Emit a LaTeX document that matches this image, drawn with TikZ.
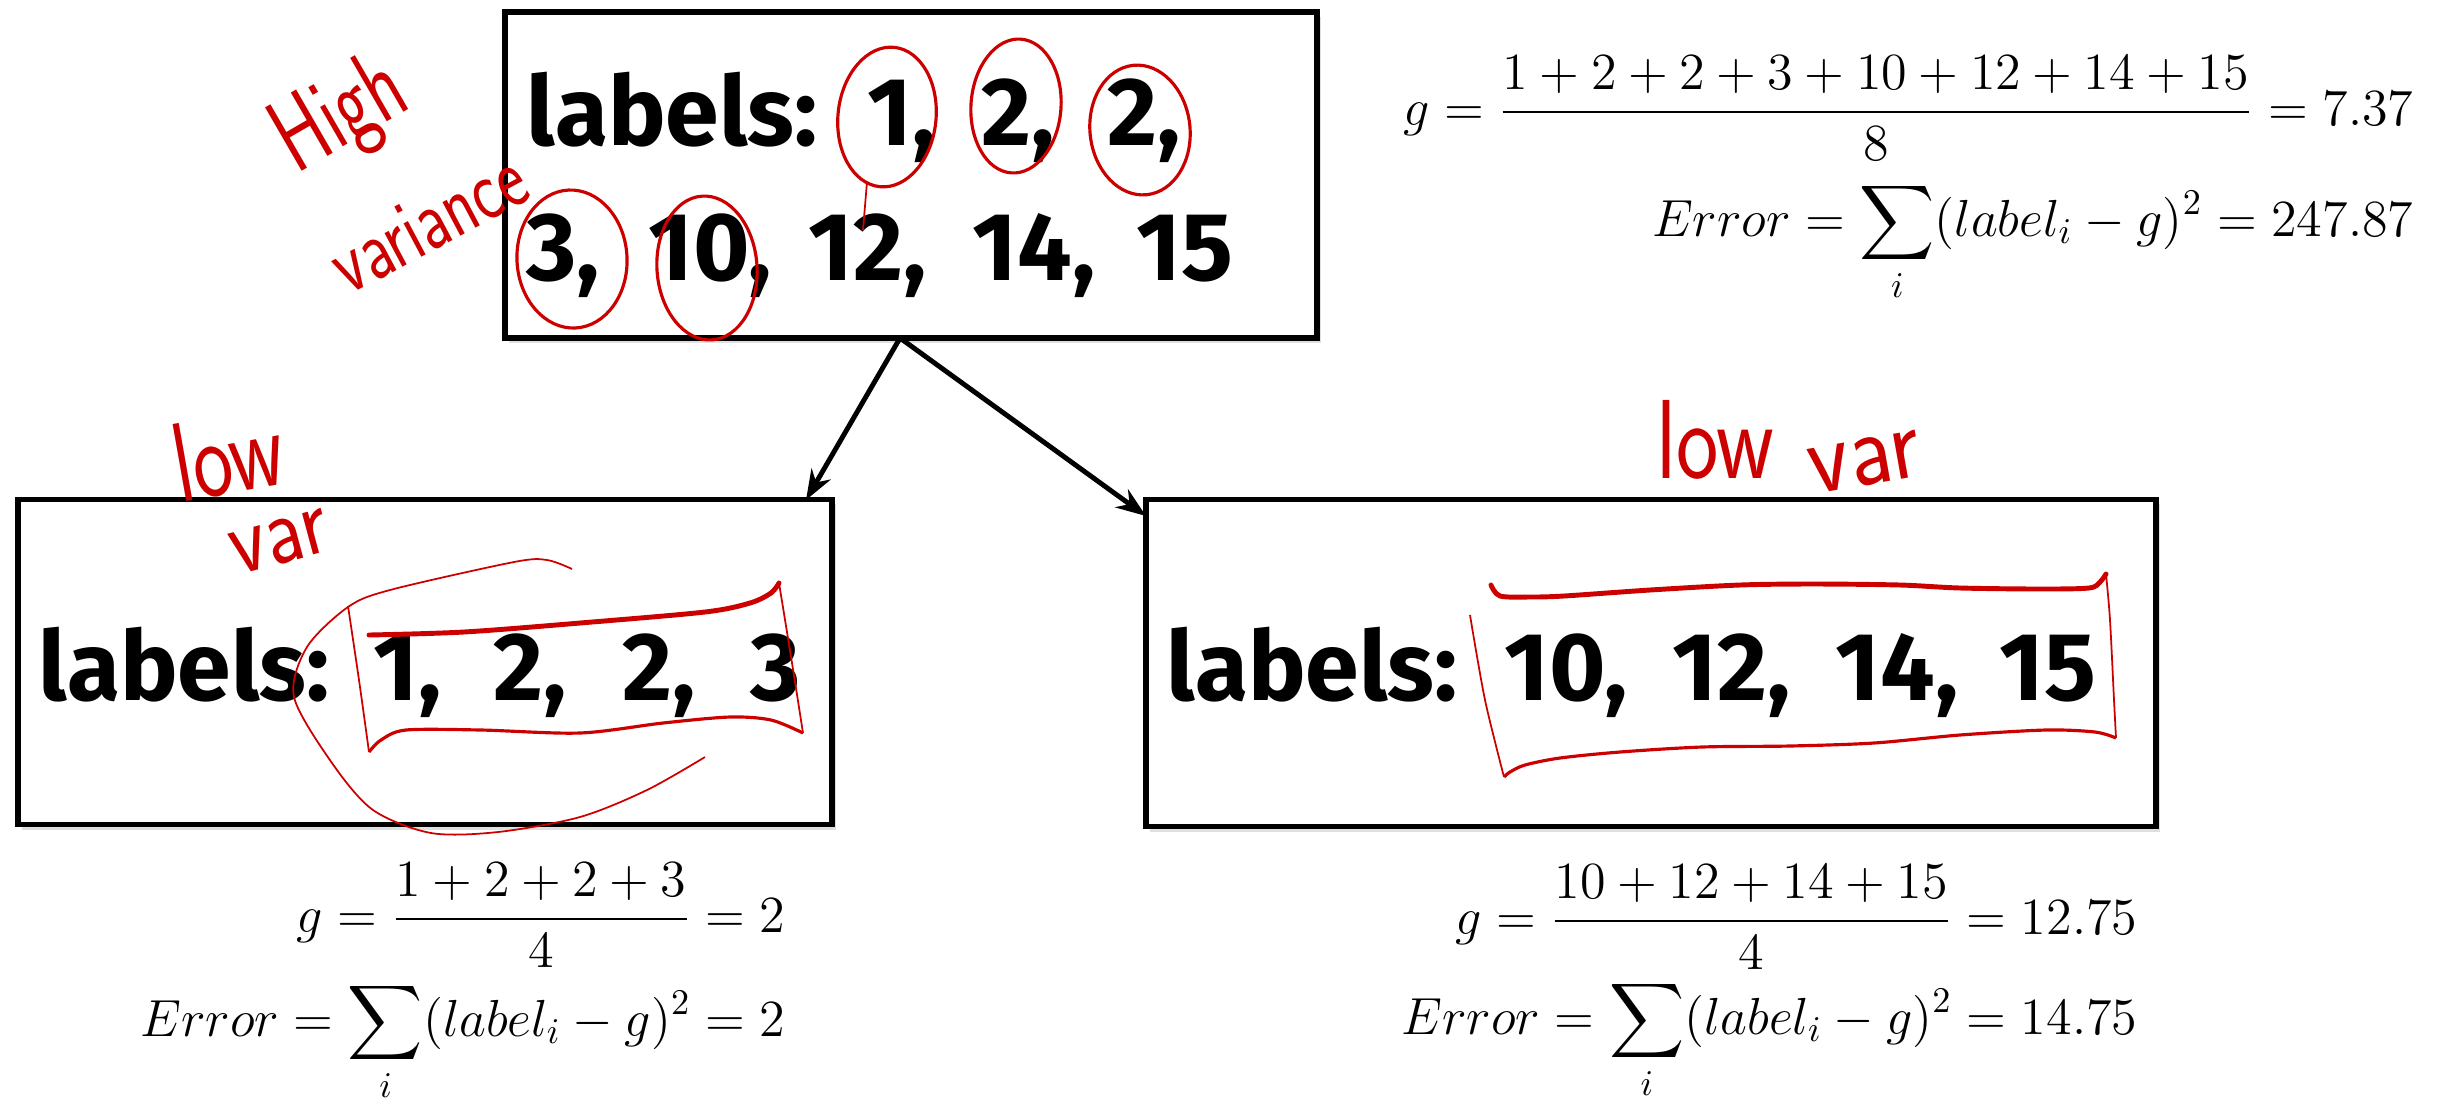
\documentclass[tikz,border=0pt]{standalone}
\usepackage{amsmath}
\usepackage{exscale}
\usepackage{fontspec}
\newfontfamily\chalk{Fira Sans}
\usetikzlibrary{arrows.meta,shadows}
\definecolor{ink}{RGB}{205,0,0}
\begin{document}
\begin{tikzpicture}[x=0.01cm,y=-0.01cm,
  box/.style={draw=black, line width=1.6pt, fill=white, rectangle, inner sep=0pt,
    drop shadow={opacity=0.25, shadow xshift=0.04cm, shadow yshift=-0.05cm}},
  tok/.style={anchor=base west, inner sep=0pt, font=\chalk\bfseries\fontsize{27.5}{33}\selectfont},
  eq/.style={anchor=base east, inner sep=0pt, scale=1.03, transform shape, font=\fontsize{14.4}{18}\selectfont},
  hand/.style={text=ink, inner sep=0pt, transform shape},
  inkthin/.style={draw=ink, line width=0.5pt},
  inkmid/.style={draw=ink, line width=0.9pt},
  inkthick/.style={draw=ink, line width=1.4pt, line cap=round},
  arr/.style={-{Stealth[length=0.3cm,width=0.22cm]}, line width=1.4pt}
]
\useasboundingbox (0,0) rectangle (2448,1105);

% boxes
\node[box, minimum width=8.12cm, minimum height=3.26cm] (top) at (911,175) {};
\node[box, minimum width=8.14cm, minimum height=3.25cm] (lbox) at (425,662) {};
\node[box, minimum width=10.09cm, minimum height=3.27cm] (rbox) at (1651,663) {};

% connectors
\coordinate (split) at (900,338);
\coordinate (lt) at (806,500);
\coordinate (rt) at (1146,516);
\draw[arr] (split) -- (lt);
\draw[arr] (split) -- (rt);

% top box labels
\node[tok] (t1) at (526,145) {labels:};
\node[tok] (t2) at (867,145) {1,};
\node[tok] (t3) at (981,145) {2,};
\node[tok] (t4) at (1107,145) {2,};
\node[tok] (t5) at (526,280) {3,};
\node[tok] (t6) at (648,280) {10,};
\node[tok] (t7) at (808,280) {12,};
\node[tok] (t8) at (972,280) {14,};
\node[tok] (t9) at (1136,280) {15};

% left box labels
\node[tok] (l1) at (38,700) {labels:};
\node[tok] (l2) at (373,700) {1,};
\node[tok] (l3) at (493,700) {2,};
\node[tok] (l4) at (622,700) {2,};
\node[tok] (l5) at (750,700) {3};

% right box labels
\node[tok] (r1) at (1166,700) {labels:};
\node[tok] (r2) at (1504,700) {10,};
\node[tok] (r3) at (1672,700) {12,};
\node[tok] (r4) at (1835,700) {14,};
\node[tok] (r5) at (1999,700) {15};

% equations
\node[eq] (eqtg) at (2414,125) {$\displaystyle g=\frac{1+2+2+3+10+12+14+15}{8}=7.37$};
\node[eq] (eqte) at (2414,236) {$\displaystyle Error=\sum_i (label_i-g)^2=247.87$};
\node[eq] (eqlg) at (786,932) {$\displaystyle g=\frac{1+2+2+3}{4}=2$};
\node[eq] (eqle) at (786,1036) {$\displaystyle Error=\sum_i (label_i-g)^2=2$};
\node[eq] (eqrg) at (2138,934) {$\displaystyle g=\frac{10+12+14+15}{4}=12.75$};
\node[eq] (eqre) at (2138,1034) {$\displaystyle Error=\sum_i (label_i-g)^2=14.75$};

% handwritten notes
\node[hand, rotate=30, xscale=0.7, font=\sffamily\fontsize{30}{36}\selectfont] (high) at (342,118) {High};
\node[hand, rotate=28, xscale=0.75, font=\sffamily\fontsize{25}{30}\selectfont] (vari) at (428,222) {variance};
\node[hand, rotate=10, xscale=0.75, font=\sffamily\fontsize{32}{38}\selectfont] (llow) at (228,455) {low};
\node[hand, rotate=15, xscale=0.85, font=\sffamily\fontsize{28}{32}\selectfont] (lvar) at (280,542) {var};
\node[hand, rotate=0, xscale=0.8, font=\sffamily\fontsize{32}{38}\selectfont] (rlow) at (1715,440) {low};
\node[hand, rotate=10, xscale=0.9, font=\sffamily\fontsize{30}{34}\selectfont] (rvar) at (1865,462) {var};

% red circles in top box
\draw[inkmid, rotate around={-6:(887,117)}] (887,117) ellipse [x radius=0.49cm, y radius=0.70cm];
\draw[inkmid, rotate around={-4:(1016,106)}] (1016,106) ellipse [x radius=0.45cm, y radius=0.67cm];
\draw[inkmid, rotate around={6:(1140,130)}] (1140,130) ellipse [x radius=0.50cm, y radius=0.65cm];
\draw[inkmid, rotate around={3:(572,259)}] (572,259) ellipse [x radius=0.55cm, y radius=0.69cm];
\draw[inkmid, rotate around={4:(707,268)}] (707,268) ellipse [x radius=0.50cm, y radius=0.72cm];
\draw[inkthin] (867,182) -- (863,230);

% left box bracket and arc
\draw[inkthick] plot[smooth] coordinates {(369,635) (464,632) (580,623) (705,612) (750,603) (771,593) (779,583)};
\draw[inkthin] plot[smooth] coordinates {(779,583) (792,663) (803,733)};
\draw[inkmid] plot[smooth] coordinates {(803,733) (771,720) (730,717) (663,723) (580,733) (481,730) (406,730) (381,740) (369,752)};
\draw[inkthin] plot[smooth] coordinates {(348,606) (359,680) (369,752)};
\draw[inkthin] plot[smooth] coordinates {(572,569) (547,560) (514,562) (390,590) (348,607) (307,647) (294,697) (332,763) (373,810) (431,833) (498,832) (580,817) (647,790) (705,757)};

% right box bracket
\draw[inkthick] plot[smooth] coordinates {(1491,585) (1500,596) (1530,597) (1564,596) (1650,590) (1740,585) (1814,584) (1900,585) (1960,588) (2040,589) (2089,588) (2100,582) (2106,574)};
\draw[inkthin] plot[smooth] coordinates {(2106,574) (2110,620) (2114,700) (2116,738)};
\draw[inkmid] plot[smooth] coordinates {(2116,738) (2095,732) (2046,730) (1960,735) (1874,743) (1790,746) (1702,747) (1620,752) (1560,758) (1525,765) (1510,772) (1504,777)};
\draw[inkthin] plot[smooth] coordinates {(1470,615) (1485,700) (1504,777)};
\end{tikzpicture}
\end{document}
